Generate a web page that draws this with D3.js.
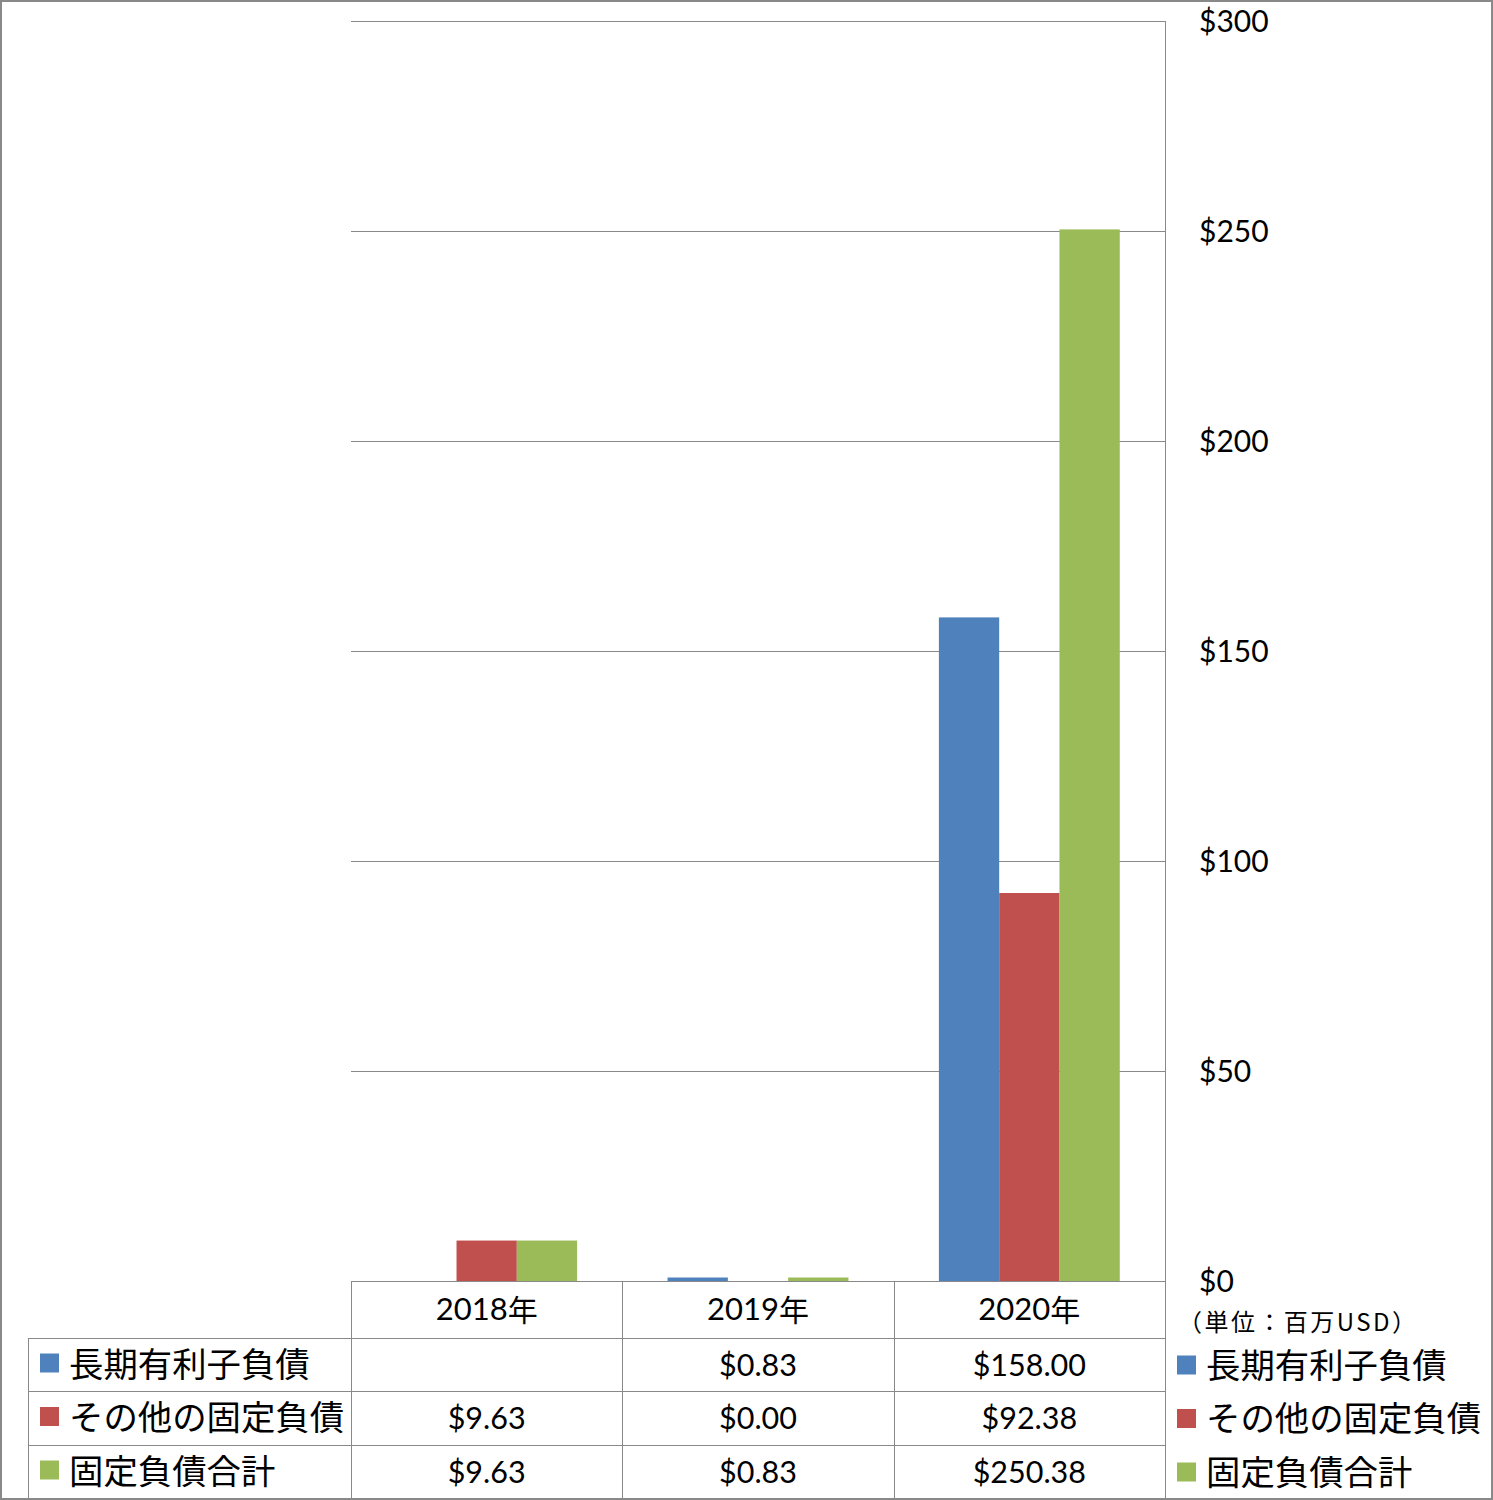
<!DOCTYPE html>
<html><head><meta charset="utf-8">
<script src="https://cdn.jsdelivr.net/npm/d3@7"></script>
<style>
body{margin:0;background:#fff;}
svg{display:block;}
</style></head>
<body>
<script>
const categories = ["2018年", "2019年", "2020年"];
const seriesNames = ["長期有利子負債", "その他の固定負債", "固定負債合計"];
const longTermDebt = [null, 0.83, 158.00];
const otherFixed = [9.63, 0.00, 92.38];
const totalFixed = [9.63, 0.83, 250.38];
const seriesColors = ["#4F81BD", "#C0504D", "#9BBB59"];
const yTicks = [0, 50, 100, 150, 200, 250, 300];
const unitLabel = "（単位：百万USD）";

const seriesValues = [longTermDebt, otherFixed, totalFixed];
const W = 1493, H = 1500;
const grid = "#898989";
const numFont = "Lato, 'Open Sans', sans-serif";
const jpFont = "'Noto Sans CJK JP', sans-serif";

const svg = d3.select("body").append("svg").attr("width", W).attr("height", H);
svg.append("rect").attr("x", 1).attr("y", 1).attr("width", W - 2).attr("height", H - 2)
  .attr("fill", "#fff").attr("stroke", grid).attr("stroke-width", 2);

const plotL = 351, plotR = 1165, plotT = 21, plotB = 1281;
const x0 = d3.scaleBand().domain(categories).range([plotL, plotR]).paddingInner(0).paddingOuter(0);
const x1 = d3.scaleBand().domain(seriesNames).range([0, x0.bandwidth()]).paddingInner(0).paddingOuter(0.75);
const y = d3.scaleLinear().domain([0, 300]).range([plotB, plotT]);

// gridlines
svg.append("g").selectAll("line").data(yTicks.filter(d => d > 0)).join("line")
  .attr("x1", plotL).attr("x2", plotR)
  .attr("y1", d => Math.round(y(d)) + 0.5).attr("y2", d => Math.round(y(d)) + 0.5)
  .attr("stroke", grid).attr("stroke-width", 1);

// bars
const barData = [];
categories.forEach((c, i) => seriesNames.forEach((s, j) => {
  const v = seriesValues[j][i];
  if (v !== null && v > 0) barData.push({c, s, v, color: seriesColors[j]});
}));
svg.append("g").selectAll("rect").data(barData).join("rect")
  .attr("x", d => x0(d.c) + x1(d.s))
  .attr("width", x1.bandwidth())
  .attr("y", d => y(d.v))
  .attr("height", d => y(0) - y(d.v))
  .attr("fill", d => d.color);

// right axis
const axis = d3.axisRight(y).tickValues(yTicks).tickSize(0).tickPadding(0).tickFormat(d => "$" + d);
const ag = svg.append("g").attr("transform", `translate(${plotR + 34},0)`).call(axis);
ag.select(".domain").remove();
ag.selectAll("text").attr("font-family", numFont).attr("font-size", 30).attr("fill", "#000").attr("dy", "0.36em");

// table geometry
const rowTops = [1281, 1338, 1391, 1445, 1498];
const tableL = 28;
const lines = svg.append("g").attr("stroke", grid).attr("stroke-width", 1);
lines.append("line").attr("x1", plotL).attr("x2", plotR).attr("y1", plotB + 0.5).attr("y2", plotB + 0.5);
[1338, 1391, 1445].forEach(yy => lines.append("line").attr("x1", tableL).attr("x2", plotR).attr("y1", yy + 0.5).attr("y2", yy + 0.5));
lines.append("line").attr("x1", plotR + 0.5).attr("x2", plotR + 0.5).attr("y1", plotT).attr("y2", H - 1);
lines.append("line").attr("x1", tableL + 0.5).attr("x2", tableL + 0.5).attr("y1", 1338).attr("y2", H - 1);
categories.forEach(c => {
  const xx = Math.round(x0(c)) + 0.5;
  lines.append("line").attr("x1", xx).attr("x2", xx).attr("y1", plotB).attr("y2", H - 1);
});

// header categories
svg.append("g").selectAll("text").data(categories).join("text")
  .attr("x", d => x0(d) + x0.bandwidth() / 2)
  .attr("y", (rowTops[0] + rowTops[1]) / 2 - 2)
  .attr("text-anchor", "middle").attr("dominant-baseline", "central")
  .attr("font-size", 31)
  .each(function(d) {
    const t = d3.select(this);
    t.append("tspan").attr("font-family", numFont).text(d.replace("年", ""));
    t.append("tspan").attr("font-family", jpFont).attr("font-size", 30).text("年");
  });

// row labels with legend keys + values
seriesNames.forEach((s, j) => {
  const cy = (rowTops[j + 1] + rowTops[j + 2]) / 2;
  svg.append("rect").attr("x", 40).attr("y", cy - 11).attr("width", 19).attr("height", 19).attr("fill", seriesColors[j]);
  svg.append("text").attr("x", 69).attr("y", cy - 3).attr("dominant-baseline", "central")
    .attr("font-family", jpFont).attr("font-size", 34.4).attr("fill", "#000").text(s);
  categories.forEach((c, i) => {
    const v = seriesValues[j][i];
    if (v === null) return;
    svg.append("text").attr("x", x0(c) + x0.bandwidth() / 2).attr("y", cy - 1)
      .attr("text-anchor", "middle").attr("dominant-baseline", "central")
      .attr("font-family", numFont).attr("font-size", 30.5).attr("fill", "#000")
      .text("$" + v.toFixed(2));
  });
  svg.append("rect").attr("x", 1177).attr("y", cy - 9).attr("width", 19).attr("height", 19).attr("fill", seriesColors[j]);
  svg.append("text").attr("x", 1206).attr("y", cy - 2).attr("dominant-baseline", "central")
    .attr("font-family", jpFont).attr("font-size", 34.4).attr("fill", "#000").text(s);
});

// unit label
svg.append("text").attr("x", 1178).attr("y", 1320).attr("dominant-baseline", "central")
  .attr("font-family", jpFont).attr("font-size", 24).attr("fill", "#000")
  .attr("textLength", 238).attr("lengthAdjust", "spacing").text(unitLabel);
</script>
</body></html>
